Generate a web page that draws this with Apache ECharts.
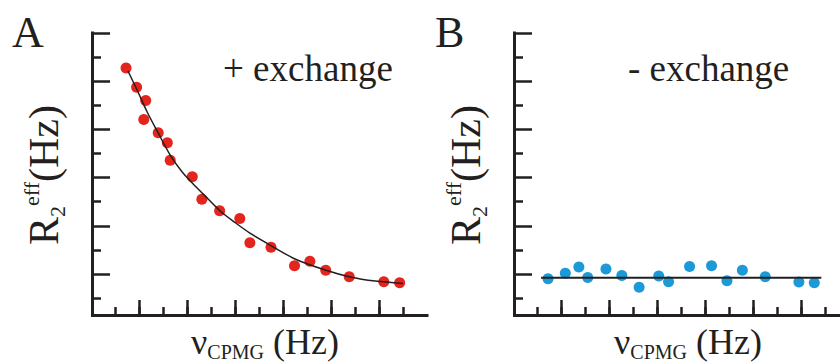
<!DOCTYPE html>
<html><head><meta charset="utf-8">
<script src="https://cdn.jsdelivr.net/npm/echarts@6/dist/echarts.min.js"></script>
<style>html,body{margin:0;padding:0;background:#fff}#c{width:840px;height:362px}</style>
</head><body><div id="c"></div>
<script>
// ---- data (x: nu_CPMG in Hz, y: R2eff in Hz) ----
const aPointsX = [73, 95, 114, 110, 140, 159, 165, 211, 231, 268, 310, 331, 375, 424, 456, 489, 538, 610, 643];
const aPointsY = [20.58, 18.98, 17.88, 16.29, 15.18, 14.35, 12.9, 11.53, 9.64, 8.68, 8.04, 6.03, 5.64, 4.11, 4.48, 3.73, 3.19, 2.77, 2.69];
const aFitX = [77, 96, 117, 140, 165, 190, 217, 244, 269, 300, 331, 373, 425, 488, 540, 592, 650];
const aFitY = [20.33, 18.75, 16.92, 15.17, 13.33, 11.92, 10.75, 9.67, 8.67, 7.71, 6.83, 5.83, 4.67, 3.75, 3.17, 2.83, 2.63];
const bPointsX = [75, 112, 141, 160, 199, 233, 270, 312, 333, 378, 425, 458, 491, 540, 612, 645];
const bPointsY = [3.03, 3.48, 4.0, 3.13, 3.83, 3.29, 2.32, 3.25, 2.78, 4.04, 4.1, 2.85, 3.73, 3.19, 2.75, 2.68];
const bFitX = [60, 660];
const bFitY = [3.1, 3.1];
const panelLabels = ['A', 'B'];
const panelTitles = ['+ exchange', '- exchange'];
const xMajorTicks = [100, 600, 100];   // min, max, interval
const xMinorTicks = [50, 650, 50];
const yTicks = [0, 10, 2];

// ---- layout / style ----
const INK = '#231f20';
const FONT = '"Liberation Serif", "Times New Roman", serif';
const RED = '#e3251d', BLUE = '#1b9ad7';
const originX = [91, 513];
const axisX = [92.5, 514.5];
const frameRight = [427, 840];
const TOP = 33, BOTTOM = 315, PX50 = 24;

const grids = [], xAxes = [], yAxes = [], series = [];
function hidden(g, min, max) { return {type: 'value', gridIndex: g, min: min, max: max, show: false}; }
function addGrid(rect) { grids.push(rect); return grids.length - 1; }
const zip = (xs, ys) => xs.map((x, i) => [x, ys[i]]);

const dataAxis = [];
for (let p = 0; p < 2; p++) {
  const L = originX[p], AX = axisX[p];
  // frame (axis lines)
  let g = addGrid({left: AX, top: TOP, width: frameRight[p] - AX, height: BOTTOM - TOP});
  const lineStyle = {color: INK, width: 3, cap: 'square'};
  xAxes.push({type: 'value', gridIndex: g, min: 0, max: 1, axisLine: {show: true, onZero: false, lineStyle},
    axisTick: {show: false}, axisLabel: {show: false}, splitLine: {show: false}});
  yAxes.push({type: 'value', gridIndex: g, min: 0, max: 1, axisLine: {show: true, onZero: false, lineStyle},
    axisTick: {show: false}, axisLabel: {show: false}, splitLine: {show: false}});
  // data grid
  g = addGrid({left: L, top: TOP, width: 14 * PX50, height: BOTTOM - TOP});
  xAxes.push(hidden(g, 0, 700)); yAxes.push(hidden(g, 0, 23.5));
  dataAxis.push([xAxes.length - 1, yAxes.length - 1]);
  // x ticks long
  const tickAxis = (g, t, len, isX) => ({type: 'value', gridIndex: g, min: t[0], max: t[1], interval: t[2],
    axisLine: {show: false}, axisLabel: {show: false}, splitLine: {show: false},
    axisTick: {show: true, inside: true, length: len, lineStyle: {color: INK, width: 2.5}}});
  g = addGrid({left: L + 2 * PX50, top: TOP, width: 10 * PX50, height: BOTTOM - TOP});
  xAxes.push(tickAxis(g, xMajorTicks, 15)); yAxes.push(hidden(g, 0, 1));
  g = addGrid({left: L + PX50, top: TOP, width: 12 * PX50, height: BOTTOM - TOP});
  xAxes.push(tickAxis(g, xMinorTicks, 8)); yAxes.push(hidden(g, 0, 1));
  // y ticks long / short
  g = addGrid({left: AX, top: TOP, width: 50, height: 241});
  yAxes.push(tickAxis(g, yTicks, 17.5)); xAxes.push(hidden(g, 0, 1));
  g = addGrid({left: AX, top: TOP + 24, width: 50, height: 241});
  yAxes.push(tickAxis(g, yTicks, 8.5)); xAxes.push(hidden(g, 0, 1));
}

series.push({type: 'scatter', xAxisIndex: dataAxis[0][0], yAxisIndex: dataAxis[0][1], data: zip(aPointsX, aPointsY),
  symbolSize: 11, itemStyle: {color: RED, opacity: 1}, z: 2, silent: true});
series.push({type: 'line', xAxisIndex: dataAxis[0][0], yAxisIndex: dataAxis[0][1], data: zip(aFitX, aFitY),
  smooth: 0.3, showSymbol: false, lineStyle: {color: INK, width: 1.5}, z: 3, silent: true});
series.push({type: 'scatter', xAxisIndex: dataAxis[1][0], yAxisIndex: dataAxis[1][1], data: zip(bPointsX, bPointsY),
  symbolSize: 11, itemStyle: {color: BLUE, opacity: 1}, z: 2, silent: true});
series.push({type: 'line', xAxisIndex: dataAxis[1][0], yAxisIndex: dataAxis[1][1], data: zip(bFitX, bFitY),
  showSymbol: false, lineStyle: {color: INK, width: 2}, z: 3, silent: true});

const graphic = [];
const labelX = [12, 435], titleX = [223, 628], yLabX = [44, 466], xLabX = [265, 688];
for (let p = 0; p < 2; p++) {
  graphic.push({type: 'text', x: labelX[p], y: 32, style: {text: panelLabels[p], fontFamily: FONT, fontSize: 44,
    fill: INK, align: 'left', verticalAlign: 'middle'}});
  graphic.push({type: 'text', x: titleX[p], y: 68, style: {text: panelTitles[p], fontFamily: FONT, fontSize: 37,
    fill: INK, align: 'left', verticalAlign: 'middle'}});
  graphic.push({type: 'text', x: yLabX[p], y: 175, rotation: Math.PI / 2, style: {
    text: '{m|R}{s|2}{e|eff}{m|(Hz)}', align: 'center', verticalAlign: 'middle', fill: INK,
    rich: {
      m: {fontFamily: FONT, fontSize: 42, lineHeight: 48, fill: INK, verticalAlign: 'middle'},
      s: {fontFamily: FONT, fontSize: 22, lineHeight: 31, fill: INK, verticalAlign: 'bottom'},
      e: {fontFamily: FONT, fontSize: 22, lineHeight: 37, fill: INK, verticalAlign: 'top'}
    }}});
  graphic.push({type: 'text', x: xLabX[p], y: 342, style: {
    text: '{m|ν}{s|CPMG}{m| (Hz)}', align: 'center', verticalAlign: 'middle', fill: INK,
    rich: {
      m: {fontFamily: FONT, fontSize: 36, lineHeight: 40, fill: INK, verticalAlign: 'middle'},
      s: {fontFamily: FONT, fontSize: 20, lineHeight: 21, fill: INK, verticalAlign: 'bottom'}
    }}});
}

const chart = echarts.init(document.getElementById('c'), null, {renderer: 'svg', width: 840, height: 362});
chart.setOption({animation: false, backgroundColor: '#fff', grid: grids, xAxis: xAxes, yAxis: yAxes, series, graphic});
</script></body></html>
